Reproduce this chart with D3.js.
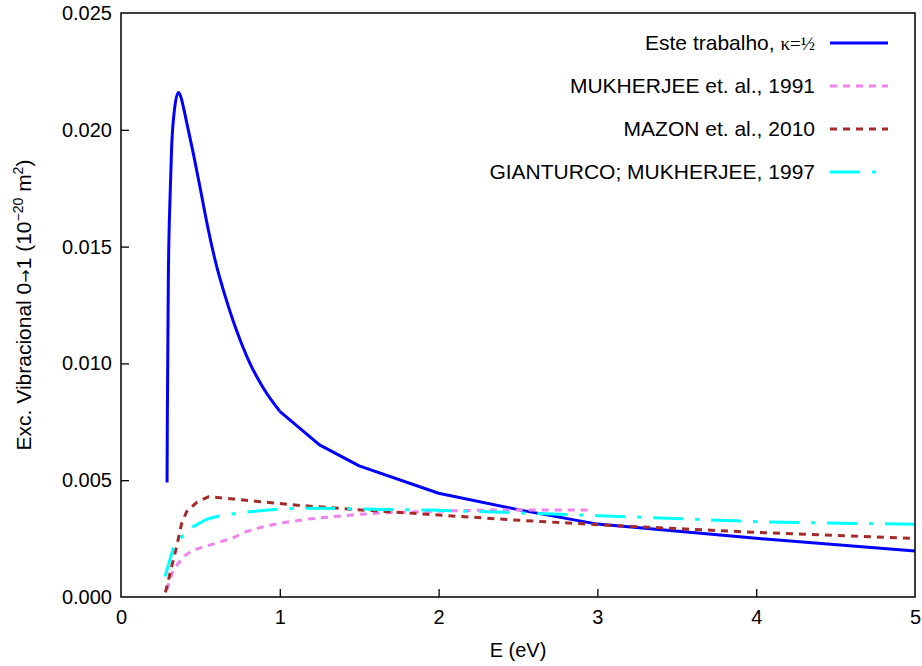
<!DOCTYPE html>
<html>
<head>
<meta charset="utf-8">
<script src="https://cdn.jsdelivr.net/npm/d3@7"></script>
<style>
body { margin: 0; background: #fff; }
text { font-family: "Liberation Sans", Arial, sans-serif; fill: #000; }
.axis path, .axis line { stroke: #000; stroke-width: 1.3; }
</style>
</head>
<body>
<div id="chart"></div>
<script>
// E (eV) vs cross section (1e-20 m^2)
const esteTrabalho = [
  [0.290,0.00490],[0.292,0.00786],[0.298,0.01357],[0.309,0.01714],[0.319,0.01928],
  [0.334,0.02070],[0.361,0.02160],[0.375,0.02145],[0.392,0.02100],[0.414,0.02030],
  [0.455,0.01900],[0.497,0.01756],[0.550,0.01571],[0.603,0.01414],[0.655,0.01290],
  [0.707,0.01180],[0.760,0.01083],[0.812,0.01000],[0.896,0.00895],[1.000,0.00795],
  [1.250,0.00651],[1.500,0.00561],[2.000,0.00444],[2.500,0.00374],[3.000,0.00312],
  [4.000,0.00251],[5.000,0.00197]
];
const mukherjee1991 = [
  [0.288,0.00030],[0.329,0.00116],[0.392,0.00172],[0.455,0.00201],[0.540,0.00218],
  [0.623,0.00236],[0.705,0.00253],[0.790,0.00280],[0.875,0.00297],[1.000,0.00316],
  [1.170,0.00333],[1.335,0.00344],[1.505,0.00354],[1.673,0.00361],[1.883,0.00365],
  [2.090,0.00369],[2.300,0.00372],[2.960,0.00372]
];
const mazon2010 = [
  [0.280,0.00020],[0.319,0.00130],[0.350,0.00215],[0.382,0.00315],[0.413,0.00365],
  [0.477,0.00405],[0.550,0.00429],[0.707,0.00420],[0.875,0.00408],[1.127,0.00392],
  [1.460,0.00375],[1.930,0.00354],[2.470,0.00330],[3.040,0.00308],[3.980,0.00277],
  [5.000,0.00251]
];
const gianturco1997 = [
  [0.277,0.00087],[0.329,0.00208],[0.392,0.00265],[0.455,0.00301],[0.540,0.00333],
  [0.623,0.00348],[0.728,0.00358],[0.812,0.00365],[1.000,0.00377],[1.190,0.00380],
  [1.670,0.00375],[1.946,0.00372],[2.470,0.00361],[3.020,0.00348],[4.020,0.00322],
  [5.000,0.00311]
];

const xTicks = [0,1,2,3,4,5];
const yTicks = [0,0.005,0.010,0.015,0.020,0.025];

const series = [
  { name: 'Este trabalho, ', extra: 'κ=½', data: esteTrabalho, color: '#0000ff', dash: null, smoothTo: 1.0 },
  { name: 'MUKHERJEE et. al., 1991', data: mukherjee1991, color: '#ee82ee', dash: '7,6' },
  { name: 'MAZON et. al., 2010', data: mazon2010, color: '#a52a2a', dash: '7,6' },
  { name: 'GIANTURCO; MUKHERJEE, 1997', data: gianturco1997, color: '#00ffff', dash: '30,12,4,12' }
];

const width = 922, height = 666;
const margin = { left: 121, right: 7, top: 13, bottom: 69 };

const svg = d3.select('#chart').append('svg')
  .attr('width', width).attr('height', height);

const x = d3.scaleLinear().domain([0,5]).range([margin.left, width-margin.right]);
const y = d3.scaleLinear().domain([0,0.025]).range([height-margin.bottom, margin.top]);

// x axis, ticks pointing in
const gx = svg.append('g').attr('class','axis')
  .attr('transform','translate(0,'+(height-margin.bottom)+')')
  .call(d3.axisBottom(x).tickValues(xTicks).tickSizeInner(-8).tickSizeOuter(0).tickPadding(13).tickFormat(d3.format('d')));
gx.selectAll('text').attr('font-size', 20).attr('font-family','Liberation Sans, Arial, sans-serif');

const gy = svg.append('g').attr('class','axis')
  .attr('transform','translate('+margin.left+',0)')
  .call(d3.axisLeft(y).tickValues(yTicks).tickSizeInner(-8).tickSizeOuter(0).tickPadding(9).tickFormat(d3.format('.3f')));
gy.selectAll('text').attr('font-size', 20).attr('font-family','Liberation Sans, Arial, sans-serif');
gy.selectAll('.tick').filter(d => d==0 || d==0.025).select('line').remove();
gx.selectAll('.tick').filter(d => d==0 || d==5).select('line').remove();
svg.selectAll('.domain').remove();

const line = d3.line().x(d => x(d[0])).y(d => y(d[1]));
const smoothLine = d3.line().curve(d3.curveMonotoneX).x(d => x(d[0])).y(d => y(d[1]));

const plot = svg.append('g');
series.forEach(s => {
  // smooth low-energy part, straight segments between the sparse points above
  const parts = s.smoothTo != null
    ? [[smoothLine, s.data.filter(d => d[0] <= s.smoothTo)], [line, s.data.filter(d => d[0] >= s.smoothTo)]]
    : [[line, s.data]];
  parts.forEach(p => {
    plot.append('path')
      .attr('d', p[0](p[1]))
      .attr('fill','none')
      .attr('stroke', s.color)
      .attr('stroke-width', 3)
      .attr('stroke-linejoin','round')
      .attr('stroke-dasharray', s.dash);
  });
});

// frame
svg.append('rect')
  .attr('x', margin.left).attr('y', margin.top)
  .attr('width', width-margin.left-margin.right)
  .attr('height', height-margin.top-margin.bottom)
  .attr('fill','none').attr('stroke','#000').attr('stroke-width',1.5);

// legend
const legend = svg.append('g');
series.forEach((s,i) => {
  const ly = 43 + i*43;
  const t = legend.append('text')
    .attr('x', 815).attr('y', ly).attr('dy','0.35em')
    .attr('text-anchor','end').attr('font-size', 21)
    .text(s.name);
  if (s.extra) t.append('tspan')
    .attr('font-family','Liberation Serif, DejaVu Serif, serif')
    .attr('font-size', 19).text(s.extra);
  legend.append('line')
    .attr('x1', 830).attr('x2', 888).attr('y1', ly).attr('y2', ly)
    .attr('stroke', s.color).attr('stroke-width', 3)
    .attr('stroke-dasharray', s.dash);
});

// axis labels
svg.append('text')
  .attr('x', (x(0)+x(5))/2).attr('y', 657)
  .attr('text-anchor','middle').attr('font-size', 20)
  .text('E (eV)');

const yl = svg.append('text')
  .attr('transform','translate(31,'+((y(0)+y(0.025))/2)+') rotate(-90)')
  .attr('text-anchor','middle').attr('font-size', 21);
yl.append('tspan').text('Exc. Vibracional 0');
yl.append('tspan').attr('font-family','DejaVu Sans, sans-serif').attr('font-size', 16).text('→');
yl.append('tspan').text('1 (10');
yl.append('tspan').attr('font-size', 14).attr('dy', -8).text('−20');
yl.append('tspan').attr('dy', 8).text(' m');
yl.append('tspan').attr('font-size', 14).attr('dy', -8).text('2');
yl.append('tspan').attr('dy', 8).text(')');
</script>
</body>
</html>
